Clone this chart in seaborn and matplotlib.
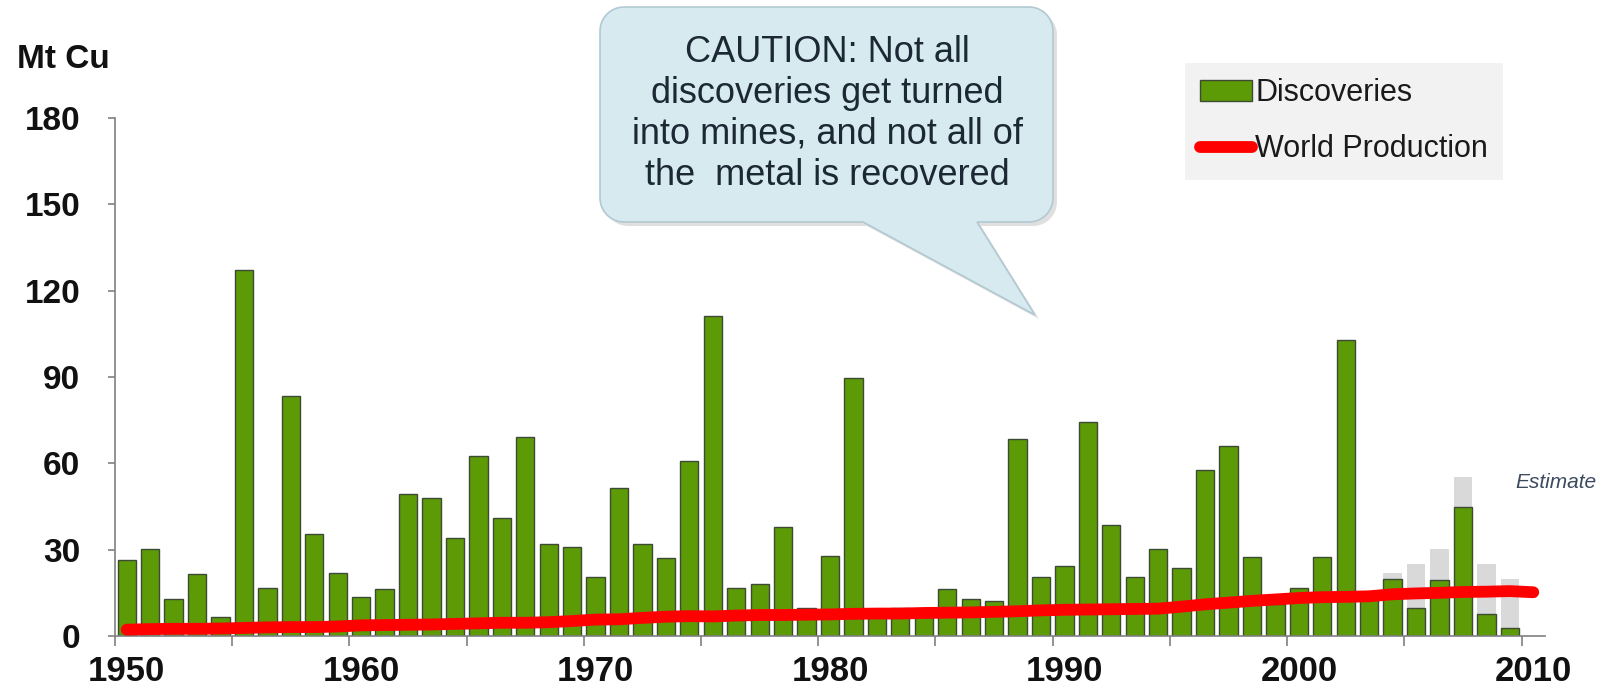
import numpy as np
import pandas as pd
import seaborn as sns
import matplotlib.pyplot as plt
from matplotlib.patches import Patch, Polygon
from matplotlib.lines import Line2D

# Data (Mt Cu)
years = list(range(1950, 2011))
discoveries = [26.4, 30.1, 12.9, 21.4, 6.6, 127.3, 16.7, 83.3, 35.4, 22.0,
               13.6, 16.2, 49.3, 48.1, 34.0, 62.7, 41.1, 69.2, 32.1, 30.8,
               20.6, 51.3, 32.1, 27.0, 60.8, 111.3, 16.7, 18.1, 37.9, 9.7,
               27.7, 89.6, 7.0, 9.7, 8.0, 16.2, 12.9, 12.2, 68.5, 20.6,
               24.4, 74.3, 38.5, 20.6, 30.2, 23.7, 57.7, 65.9, 27.6, 11.0,
               16.7, 27.6, 103.0, 13.0, 19.9, 9.8, 19.3, 44.9, 7.8, 2.8,
               np.nan]
estimate_total = [np.nan] * 54 + [21.8, 25.1, 30.1, 55.1, 25.1, 19.9, np.nan]
production = [2.2, 2.4, 2.5, 2.5, 2.6, 2.8, 3.0, 3.1, 3.1, 3.3,
              3.7, 3.8, 3.9, 4.0, 4.2, 4.4, 4.6, 4.6, 4.8, 5.2,
              5.7, 5.8, 6.3, 6.7, 6.9, 6.8, 7.1, 7.3, 7.3, 7.4,
              7.5, 7.7, 7.8, 7.8, 8.0, 8.1, 8.2, 8.4, 8.6, 8.9,
              9.1, 9.2, 9.3, 9.4, 9.5, 10.2, 11.0, 11.6, 12.2, 12.7,
              13.2, 13.5, 13.6, 13.8, 14.5, 14.8, 15.0, 15.3, 15.4, 15.6,
              15.2]
yticks = [0, 30, 60, 90, 120, 150, 180]
xlabel_years = [1950, 1960, 1970, 1980, 1990, 2000, 2010]

year_labels = [str(y) for y in years]
df = pd.DataFrame({"year": year_labels, "discoveries": discoveries,
                   "estimate": estimate_total, "production": production})
df["pos"] = np.arange(len(df))

sns.set_theme(style="white")
plt.rcParams['font.family'] = ['Liberation Sans', 'DejaVu Sans']

W, H = 1603, 696
fig = plt.figure(figsize=(W / 100, H / 100), dpi=100)
ax = fig.add_axes([115 / W, 1 - 636 / H, (1545 - 115) / W, (636 - 118) / H])

green = "#5c9a06"
grey_axis = "#808080"

sns.barplot(data=df, x="year", y="estimate", order=year_labels, color="#d9d9d9",
            saturation=1, width=0.78, linewidth=0, errorbar=None, ax=ax)
sns.barplot(data=df, x="year", y="discoveries", order=year_labels, color=green,
            saturation=1, width=0.78, edgecolor="#3d4a35", linewidth=1.0,
            errorbar=None, ax=ax)
sns.lineplot(data=df, x="pos", y="production", color="#ff0000", linewidth=8.5,
             solid_capstyle="round", ax=ax, zorder=5)

ax.set_xlim(-0.5, len(years) - 0.5)
ax.set_ylim(0, 180)
ax.set_xlabel("")
ax.set_ylabel("")

for s in ["top", "right"]:
    ax.spines[s].set_visible(False)
for s in ["left", "bottom"]:
    ax.spines[s].set_color(grey_axis)
    ax.spines[s].set_linewidth(1.2)

ax.set_yticks(yticks)
ax.set_yticklabels([str(v) for v in yticks], fontsize=24, fontweight="bold", color="#111111")
ax.tick_params(axis="y", direction="out", length=5, width=1.2, color=grey_axis, pad=20, left=True)

label_pos = [years.index(y) for y in xlabel_years]
ax.set_xticks(label_pos)
ax.set_xticklabels([str(y) for y in xlabel_years], fontsize=25, fontweight="bold", color="#111111")
ax.set_xticks(np.arange(-0.5, len(years) - 1, 5), minor=True)
ax.tick_params(axis="x", which="major", length=0, pad=14)
ax.tick_params(axis="x", which="minor", direction="out", length=7, width=1.2,
               color=grey_axis, bottom=True)

fig.text(17 / W, 1 - 60 / H, "Mt Cu", fontsize=24, fontweight="bold", color="#111111",
         ha="left", va="center")

# legend
handles = [Patch(facecolor=green, edgecolor="#3d4a35", linewidth=1.0),
           Line2D([0], [0], color="#ff0000", linewidth=8.5, solid_capstyle="round")]
leg = fig.legend(handles, ["Discoveries", "World Production"], loc="upper left",
                 bbox_to_anchor=(1185 / W, 1 - 63 / H), borderaxespad=0,
                 fontsize=22, frameon=True, fancybox=False, handlelength=1.7,
                 handletextpad=0.1, labelspacing=0.85, borderpad=0.5)
leg.get_frame().set_facecolor("#efefef")
leg.get_frame().set_edgecolor("none")
for t in leg.get_texts():
    t.set_color("#1a1a1a")

# callout overlay in pixel coordinates
ov = fig.add_axes([0, 0, 1, 1], zorder=10)
ov.set_xlim(0, W)
ov.set_ylim(H, 0)
ov.axis("off")


def callout(x0, x1, y0, y1, r, xb0, xb1, tip, n=12):
    pts = [(x0 + r, y0), (x1 - r, y0)]
    for t in np.linspace(-90, 0, n):
        pts.append((x1 - r + r * np.cos(np.radians(t)), y0 + r + r * np.sin(np.radians(t))))
    for t in np.linspace(0, 90, n):
        pts.append((x1 - r + r * np.cos(np.radians(t)), y1 - r + r * np.sin(np.radians(t))))
    pts += [(xb1, y1), tip, (xb0, y1)]
    for t in np.linspace(90, 180, n):
        pts.append((x0 + r + r * np.cos(np.radians(t)), y1 - r + r * np.sin(np.radians(t))))
    for t in np.linspace(180, 270, n):
        pts.append((x0 + r + r * np.cos(np.radians(t)), y0 + r + r * np.sin(np.radians(t))))
    return np.array(pts)


pts = callout(600, 1053, 7, 222, 24, 863, 977, (1035, 315))
ov.add_patch(Polygon(pts + np.array([4, 4]), closed=True, facecolor=(0.5, 0.5, 0.5, 0.25),
                     edgecolor="none"))
ov.add_patch(Polygon(pts, closed=True, facecolor="#d6eaf0", edgecolor="#b3c9d2", linewidth=1.2))
ov.text(827, 114, "CAUTION: Not all\ndiscoveries get turned\ninto mines, and not all of\nthe  metal is recovered",
        ha="center", va="center", fontsize=26, color="#1c2833", linespacing=1.22)

ov.text(1515, 483, "Estimate", ha="left", va="center", fontsize=15, fontstyle="italic",
        color="#3b4a5e")

fig.savefig("out.png", dpi=100)
